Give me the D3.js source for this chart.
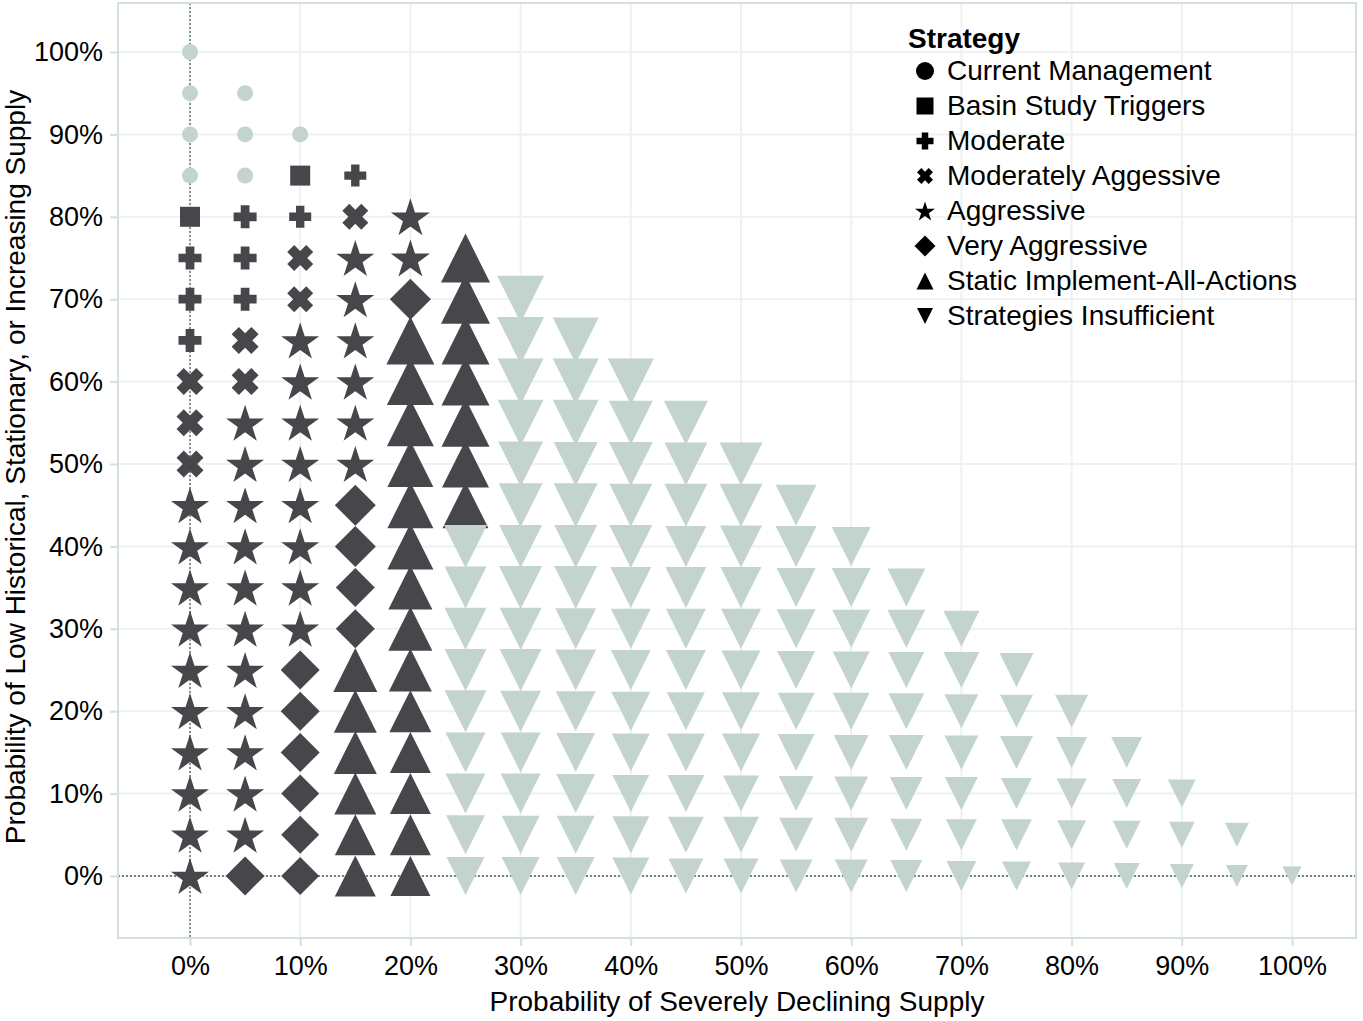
<!DOCTYPE html>
<html>
<head>
<meta charset="utf-8">
<script src="https://cdn.jsdelivr.net/npm/d3@7"></script>
<style>
  body { margin: 0; background: #fff; }
  svg { display: block; font-family: Arial, "Liberation Sans", sans-serif; }
</style>
</head>
<body>
<svg id="chart"></svg>
<script>
// ---- data ----
const strategies = ["Current Management", "Basin Study Triggers", "Moderate", "Moderately Aggessive",
                    "Aggressive", "Very Aggressive", "Static Implement-All-Actions", "Strategies Insufficient"];
const strategyCodes = ["C", "B", "M", "X", "A", "V", "S", "I"];

// probability of severely declining supply (one column each)
const xValues = [0, 0.05, 0.10, 0.15, 0.20, 0.25, 0.30, 0.35, 0.40, 0.45, 0.50,
                 0.55, 0.60, 0.65, 0.70, 0.75, 0.80, 0.85, 0.90, 0.95, 1.00];
// probability of low historical / stationary / increasing supply, step along each column
const yStep = 0.05;

// strategy code per cell, one string per column, starting at 0% and going up
const columnStrategies = [
  "AAAAAAAAAAXXXMMMBCCCC",
  "VAAAAAAAAAAAXXMMMCCC",
  "VVVVVVAAAAAAAAXXMBC",
  "SSSSSSVVVVAAAAAAXM",
  "SSSSSSSSSSSSSSVAA",
  "IIIIIIIIISSSSSSS",
  "IIIIIIIIIIIIIII",
  "IIIIIIIIIIIIII",
  "IIIIIIIIIIIII",
  "IIIIIIIIIIII",
  "IIIIIIIIIII",
  "IIIIIIIIII",
  "IIIIIIIII",
  "IIIIIIII",
  "IIIIIII",
  "IIIIII",
  "IIIII",
  "IIII",
  "III",
  "II",
  "I"
];

// size measure per cell (0-100), same layout as columnStrategies
const columnSizes = [
  [76, 76, 76, 76, 76, 76, 76, 76, 76, 76, 54, 54, 54, 46, 46, 46, 40, 32, 32, 32, 32],
  [78, 76, 76, 76, 76, 76, 76, 76, 76, 76, 76, 76, 54, 54, 46, 46, 46, 32, 32, 32],
  [76, 76, 76, 78, 78, 78, 76, 76, 76, 76, 76, 76, 76, 76, 52, 52, 44, 40, 32],
  [82, 82, 84, 86, 86, 88, 78, 78, 82, 82, 76, 76, 76, 76, 76, 76, 52, 44],
  [80, 82, 82, 82, 84, 86, 88, 88, 92, 92, 92, 94, 94, 96, 82, 78, 78],
  [76, 78, 80, 80, 84, 84, 84, 84, 86, 92, 94, 96, 96, 96, 98, 98],
  [76, 76, 80, 80, 82, 84, 84, 86, 86, 88, 90, 92, 92, 94, 94],
  [76, 76, 78, 78, 80, 82, 82, 86, 86, 88, 88, 92, 92, 92],
  [74, 74, 74, 76, 78, 80, 80, 82, 86, 86, 88, 88, 92],
  [70, 72, 74, 76, 76, 80, 80, 82, 82, 86, 86, 88],
  [70, 72, 72, 76, 76, 78, 80, 82, 84, 86, 86],
  [66, 68, 70, 74, 74, 76, 78, 78, 82, 82],
  [66, 68, 68, 70, 74, 74, 76, 78, 78],
  [64, 64, 66, 70, 72, 72, 76, 76],
  [60, 62, 66, 68, 68, 72, 72],
  [58, 62, 62, 66, 66, 68],
  [54, 58, 60, 62, 66],
  [52, 56, 58, 62],
  [48, 52, 56],
  [44, 48],
  [38]
];

const tickValues = [0, 0.1, 0.2, 0.3, 0.4, 0.5, 0.6, 0.7, 0.8, 0.9, 1.0];

// ---- build records ----
const points = [];
xValues.forEach((xv, i) => {
  const codes = columnStrategies[i];
  for (let j = 0; j < codes.length; j++) {
    points.push({ x: xv, y: j * yStep, code: codes[j], size: columnSizes[i][j] });
  }
});
// lower rows drawn last
points.sort((a, b) => b.y - a.y || a.x - b.x);

// ---- layout ----
const width = 1363, height = 1021;
const frame = { left: 118, right: 1356, top: 3, bottom: 938 };

const svg = d3.select("#chart").attr("width", width).attr("height", height);

const x = d3.scaleLinear().domain([0, 1]).range([190, 1292]);
const y = d3.scaleLinear().domain([0, 1]).range([876, 52]);
const markWidth = d3.scaleLinear().domain([0, 100]).range([0, 50]);

const darkColor = "#47464b";
const lightColor = "#c3d4cf";
const color = d3.scaleOrdinal()
  .domain(strategyCodes)
  .range([lightColor, darkColor, darkColor, darkColor, darkColor, darkColor, darkColor, lightColor]);

// shape paths sized by their bounding box width w
function polygon(pts) {
  return "M" + pts.map(p => p[0].toFixed(2) + "," + p[1].toFixed(2)).join("L") + "Z";
}
function plusPoints(len, t) {
  const a = len / 2, b = t / 2;
  return [[-b, -a], [b, -a], [b, -b], [a, -b], [a, b], [b, b], [b, a], [-b, a], [-b, b], [-a, b], [-a, -b], [-b, -b]];
}
function shapePath(code, w) {
  const h = w / 2;
  switch (code) {
    case "C": {
      const p = d3.path();
      p.arc(0, 0, h, 0, 2 * Math.PI);
      p.closePath();
      return p.toString();
    }
    case "B":
      return polygon([[-h, -h], [h, -h], [h, h], [-h, h]]);
    case "M":
      return polygon(plusPoints(w, w * 0.38));
    case "X": {
      const t = w * 0.38, len = Math.SQRT2 * w - t;
      const c = Math.SQRT1_2;
      return polygon(plusPoints(len, t).map(([px, py]) => [c * (px - py), c * (px + py)]));
    }
    case "A": {
      const R = w / (2 * Math.sin(2 * Math.PI / 5));
      const r = R * 0.382;
      const dy = (R - R * Math.cos(Math.PI / 5)) / 2;
      const pts = [];
      for (let k = 0; k < 10; k++) {
        const ang = k * Math.PI / 5;
        const rr = k % 2 === 0 ? R : r;
        pts.push([rr * Math.sin(ang), -rr * Math.cos(ang) + dy]);
      }
      return polygon(pts);
    }
    case "V":
      return polygon([[0, -h], [h, 0], [0, h], [-h, 0]]);
    case "S":
      return polygon([[0, -h], [h, h], [-h, h]]);
    case "I":
      return polygon([[-h, -h], [h, -h], [0, h]]);
  }
}

// ---- grid ----
const grid = svg.append("g");
grid.selectAll("line.gx").data(tickValues).join("line")
  .attr("x1", d => x(d)).attr("x2", d => x(d))
  .attr("y1", frame.top).attr("y2", frame.bottom)
  .attr("stroke", "#edf2f0").attr("stroke-width", 2);
grid.selectAll("line.gy").data(tickValues).join("line")
  .attr("y1", d => y(d)).attr("y2", d => y(d))
  .attr("x1", frame.left).attr("x2", frame.right)
  .attr("stroke", "#edf2f0").attr("stroke-width", 2);

// zero reference lines
svg.append("line")
  .attr("x1", x(0)).attr("x2", x(0)).attr("y1", frame.top).attr("y2", frame.bottom)
  .attr("stroke", "#55605f").attr("stroke-width", 1.3).attr("stroke-dasharray", "2,2");
svg.append("line")
  .attr("x1", frame.left).attr("x2", frame.right).attr("y1", y(0)).attr("y2", y(0))
  .attr("stroke", "#55605f").attr("stroke-width", 1.3).attr("stroke-dasharray", "2,2");

// ---- marks ----
svg.append("g").selectAll("path").data(points).join("path")
  .attr("transform", d => `translate(${x(d.x)},${y(d.y)})`)
  .attr("d", d => shapePath(d.code, markWidth(d.size)))
  .attr("fill", d => color(d.code));

// ---- frame ----
svg.append("rect")
  .attr("x", frame.left).attr("y", frame.top)
  .attr("width", frame.right - frame.left).attr("height", frame.bottom - frame.top)
  .attr("fill", "none").attr("stroke", "#d4e0dc").attr("stroke-width", 2);

// ---- axes ----
const fmt = d3.format(".0%");
const xAxis = svg.append("g")
  .attr("transform", `translate(0,${frame.bottom})`)
  .call(d3.axisBottom(x).tickValues(tickValues).tickFormat(fmt).tickSize(8).tickPadding(10));
const yAxis = svg.append("g")
  .attr("transform", `translate(${frame.left},0)`)
  .call(d3.axisLeft(y).tickValues(tickValues).tickFormat(fmt).tickSize(8).tickPadding(7));
[xAxis, yAxis].forEach(ax => {
  ax.select(".domain").remove();
  ax.selectAll(".tick line").attr("stroke", "#d4e0dc").attr("stroke-width", 2);
  ax.selectAll(".tick text")
    .attr("fill", "#000")
    .style("font-size", "27px")
    .style("font-family", "Arial, 'Liberation Sans', sans-serif");
});

svg.append("text")
  .attr("x", (frame.left + frame.right) / 2).attr("y", 1011)
  .attr("text-anchor", "middle")
  .style("font-size", "28px")
  .text("Probability of Severely Declining Supply");

svg.append("text")
  .attr("transform", `translate(25,467) rotate(-90)`)
  .attr("text-anchor", "middle")
  .style("font-size", "28px")
  .text("Probability of Low Historical, Stationary, or Increasing Supply");

// ---- legend ----
const legendWidth = { C: 18, B: 17, M: 17, X: 16, A: 20, V: 21, S: 17, I: 16 };
const legend = svg.append("g").attr("transform", "translate(908,0)");
legend.append("text")
  .attr("x", 0).attr("y", 48)
  .style("font-size", "28px").style("font-weight", "bold")
  .text("Strategy");
const items = legend.selectAll("g.item").data(strategies).join("g")
  .attr("transform", (d, i) => `translate(0,${80 + i * 35})`);
items.append("path")
  .attr("transform", "translate(17,-9)")
  .attr("d", (d, i) => shapePath(strategyCodes[i], legendWidth[strategyCodes[i]]))
  .attr("fill", "#000");
items.append("text")
  .attr("x", 39).attr("y", 0)
  .style("font-size", "28px")
  .text(d => d);
</script>
</body>
</html>
